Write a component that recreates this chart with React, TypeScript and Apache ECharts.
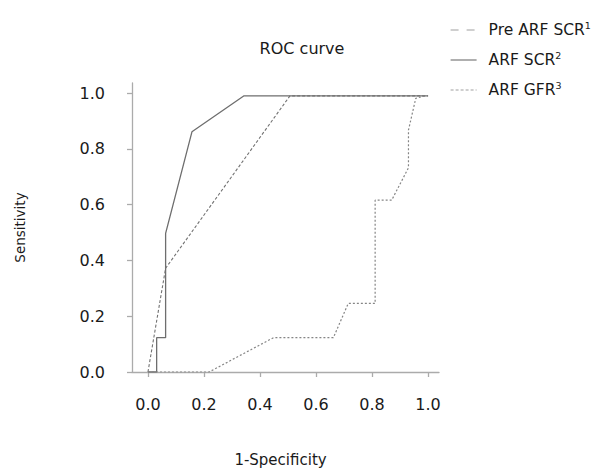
import React, { useEffect, useRef } from "react";
import * as echarts from "echarts";

// ROC curves: [1-specificity, sensitivity]
const seriesNames = ["Pre ARF SCR", "ARF SCR", "ARF GFR"];
const seriesSup = ["1", "2", "3"];

const preArfScr: [number, number][] = [
  [0, 0],
  [0.063, 0.372],
  [0.507, 0.99],
  [1.0, 0.99],
];

const arfScr: [number, number][] = [
  [0, 0],
  [0.031, 0],
  [0.031, 0.123],
  [0.063, 0.123],
  [0.063, 0.497],
  [0.157, 0.861],
  [0.343, 0.99],
  [1.0, 0.99],
];

const arfGfr: [number, number][] = [
  [0, 0],
  [0.218, 0],
  [0.448, 0.123],
  [0.662, 0.123],
  [0.715, 0.246],
  [0.811, 0.246],
  [0.811, 0.616],
  [0.87, 0.616],
  [0.93, 0.732],
  [0.93, 0.867],
  [0.956, 0.981],
  [0.99, 0.99],
];

const tickValues = [0, 0.2, 0.4, 0.6, 0.8, 1.0];

const FONT = "DejaVu Sans";

export default function App() {
  const ref = useRef<HTMLDivElement>(null);

  useEffect(() => {
    if (!ref.current) return;
    const chart = echarts.init(ref.current, undefined, { renderer: "svg" });

    const axisColor = "#ababab";
    const supOf: Record<string, string> = {};
    seriesNames.forEach((n, i) => (supOf[n] = seriesSup[i]));
    const hiddenSymbol = { opacity: 0 };

    chart.setOption({
      animation: false,
      backgroundColor: "#ffffff",
      title: {
        text: "ROC curve",
        left: 297,
        top: 35,
        textAlign: "center",
        textStyle: { fontFamily: FONT, fontSize: 16, fontWeight: "normal", color: "#1a1a1a" },
      },
      legend: {
        orient: "vertical",
        left: 445,
        top: 15,
        itemWidth: 26,
        itemHeight: 14,
        itemGap: 12,
        formatter: (name: string) => `{n|${name}}{s|${supOf[name]}}`,
        textStyle: {
          fontFamily: FONT,
          color: "#1a1a1a",
          rich: {
            n: { fontFamily: FONT, fontSize: 15.5, color: "#1a1a1a", padding: [0, 0, 0, 7], lineHeight: 20 },
            s: { fontFamily: FONT, fontSize: 9.5, color: "#1a1a1a", verticalAlign: "top", lineHeight: 12 },
          },
        },
        data: [
          { name: seriesNames[0], itemStyle: hiddenSymbol, lineStyle: { type: [8, 8], color: "#a0a0a0", width: 1.2, opacity: 1 } },
          { name: seriesNames[1], itemStyle: hiddenSymbol, lineStyle: { type: "solid", color: "#7a7a7a", width: 1.2, opacity: 1 } },
          { name: seriesNames[2], itemStyle: hiddenSymbol, lineStyle: { type: [3, 2], color: "#a0a0a0", width: 1.2, opacity: 1 } },
        ],
      },
      grid: { left: 132, right: 163, top: 83, bottom: 100, containLabel: false },
      xAxis: {
        type: "value",
        min: -0.057,
        max: 1.039,
        splitLine: { show: false },
        axisLine: { show: true, onZero: false, lineStyle: { color: axisColor, width: 1.3 } },
        axisTick: { show: true, length: 5, customValues: tickValues, lineStyle: { color: axisColor, width: 1.3 } },
        axisLabel: {
          customValues: tickValues,
          margin: 24,
          fontFamily: FONT,
          fontSize: 16,
          color: "#1a1a1a",
          formatter: (v: number) => v.toFixed(1),
        },
        name: "1-Specificity",
        nameLocation: "middle",
        nameGap: 80,
        nameTextStyle: { fontFamily: FONT, fontSize: 15, color: "#1a1a1a", padding: [0, 10, 0, 0] },
      },
      yAxis: {
        type: "value",
        min: 0,
        max: 1.036,
        splitLine: { show: false },
        axisLine: { show: true, onZero: false, lineStyle: { color: axisColor, width: 1.3 } },
        axisTick: { show: true, length: 5, customValues: tickValues, lineStyle: { color: axisColor, width: 1.3 } },
        axisLabel: {
          customValues: tickValues,
          margin: 27,
          fontFamily: FONT,
          fontSize: 16,
          color: "#1a1a1a",
          formatter: (v: number) => v.toFixed(1),
        },
        name: "Sensitivity",
        nameLocation: "middle",
        nameGap: 105,
        nameTextStyle: { fontFamily: FONT, fontSize: 13.5, color: "#1a1a1a" },
      },
      series: [
        {
          name: seriesNames[0],
          type: "line",
          data: preArfScr,
          symbol: "none",
          lineStyle: { type: [3, 2], color: "#727272", width: 1.1 },
          itemStyle: { color: "#727272" },
          z: 3,
        },
        {
          name: seriesNames[1],
          type: "line",
          data: arfScr,
          symbol: "none",
          lineStyle: { type: "solid", color: "#6e6e6e", width: 1.3 },
          itemStyle: { color: "#6e6e6e" },
          z: 2,
        },
        {
          name: seriesNames[2],
          type: "line",
          data: arfGfr,
          symbol: "none",
          lineStyle: { type: [2, 2], color: "#858585", width: 1.2 },
          itemStyle: { color: "#858585" },
          z: 4,
        },
      ],
    });

    return () => chart.dispose();
  }, []);

  return <div ref={ref} style={{ width: 602, height: 472, position: "absolute", left: 0, top: 0 }} />;
}
